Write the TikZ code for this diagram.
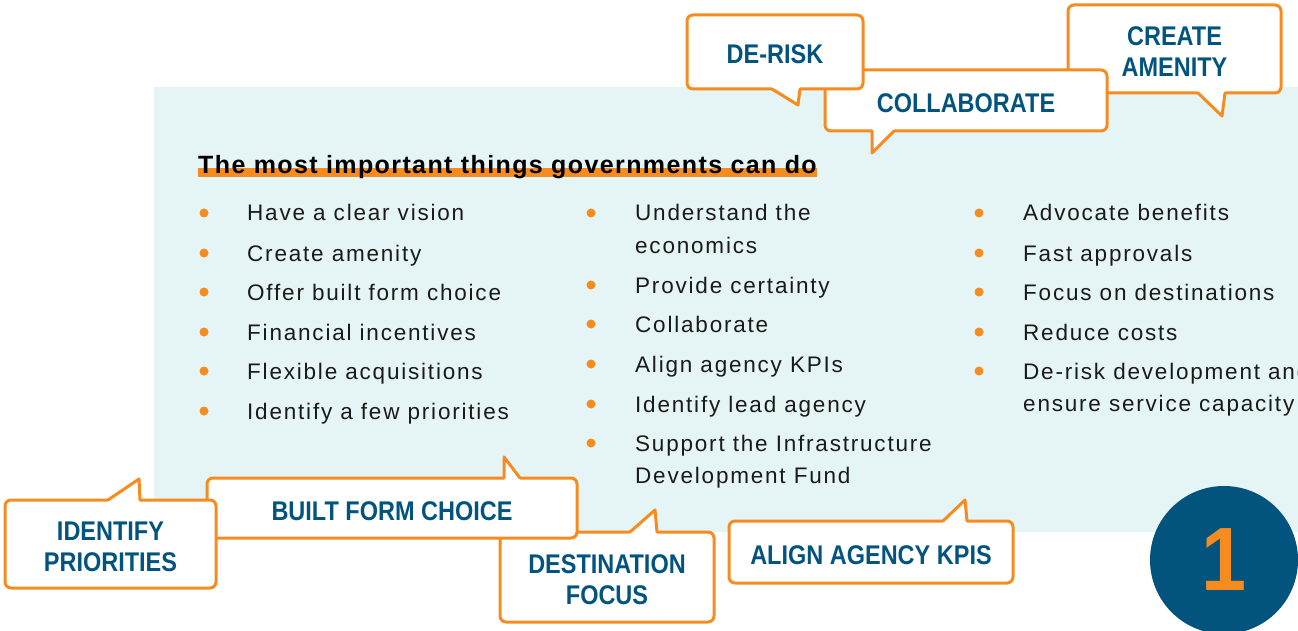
\documentclass[tikz,border=0pt]{standalone}
\usepackage{fontspec}
\setmainfont{Liberation Sans}
\newfontfamily\bodyfont{Liberation Sans}[LetterSpace=8]
\newfontfamily\titlefont{Liberation Sans Bold}[LetterSpace=5.6]
\newfontfamily\callfont{Liberation Sans Bold}[FakeStretch=0.87]
\newfontfamily\numfont{Liberation Sans Bold}[FakeStretch=0.9]
\usetikzlibrary{calc,backgrounds}
\definecolor{corange}{HTML}{F68B1F}
\definecolor{cblue}{HTML}{02547F}
\definecolor{cpanel}{HTML}{E5F4F5}
\definecolor{ctext}{HTML}{1A1A1A}
\tikzset{
  callout/.style={draw=corange, line width=3pt, fill=white, rounded corners=6pt,
    inner sep=0pt, outer sep=0pt, text=cblue, align=center,
    font=\callfont\fontsize{27}{31}\selectfont},
  oneline/.style={text height=24pt, text depth=0pt},
  twoline/.style={text height=55pt, text depth=0pt},
  tailline/.style={draw=corange, line width=3pt, line join=round, line cap=round},
  body/.style={anchor=base west, inner sep=0pt, text=ctext,
    font=\bodyfont\fontsize{22.5}{32}\selectfont},
  bul/.style={circle, fill=corange, inner sep=0pt, minimum size=9pt},
}
\begin{document}
\begin{tikzpicture}[x=1pt,y=-1pt]
\useasboundingbox (0,0) rectangle (1298,631);
\clip (0,0) rectangle (1298,631);
% panel
\begin{scope}[on background layer]
  \fill[cpanel] (154,87) rectangle (1298,532);
\end{scope}
% title
\node[anchor=base west, inner sep=0pt, text=black, font=\titlefont\fontsize{25}{30}\selectfont]
  (title) at (198,174) {The most important things governments can do};
\begin{scope}[on background layer]
  \fill[corange] ($(title.base west)+(0,-6)$) rectangle ($(title.base east)+(0,3)$);
\end{scope}
% column 1
\foreach \t/\y [count=\i] in {Have a clear vision/221, Create amenity/261,
  Offer built form choice/300, Financial incentives/340,
  Flexible acquisitions/379, Identify a few priorities/419}{
  \node[body] (a\i) at (247,\y) {\t};
  \node[bul] (ba\i) at (204,\y-8) {};
}
% column 2
\foreach \t/\y [count=\i] in {Understand the/221, Provide certainty/293,
  Collaborate/332, Align agency KPIs/372, Identify lead agency/412,
  Support the Infrastructure/451}{
  \node[body] (b\i) at (635,\y) {\t};
  \node[bul] (bb\i) at (591,\y-8) {};
}
\node[body] (b1x) at (635,253) {economics};
\node[body] (b6x) at (635,483) {Development Fund};
% column 3
\foreach \t/\y [count=\i] in {Advocate benefits/221, Fast approvals/261,
  Focus on destinations/300, Reduce costs/340, De-risk development and/379}{
  \node[body] (c\i) at (1023,\y) {\t};
  \node[bul] (bc\i) at (979,\y-8) {};
}
\node[body] (c5x) at (1023,411) {ensure service capacity};

% ---- top callouts (back to front) ----
% CREATE AMENITY
\node[callout, twoline, minimum width=213pt, minimum height=88pt] (ca) at (1174.5,49) {CREATE\\AMENITY};
\fill[white] ($(ca.south)+(23.5,-4)$) -- ($(ca.south)+(23.5,0)$) -- ($(ca.south)+(47.5,23)$) -- ($(ca.south)+(50.5,0)$) -- ($(ca.south)+(50.5,-4)$) -- cycle;
\draw[tailline] ($(ca.south)+(23.5,0)$) -- ($(ca.south)+(47.5,23)$) -- ($(ca.south)+(50.5,0)$);
% COLLABORATE
\node[callout, oneline, minimum width=282pt, minimum height=61pt] (co) at (966,100.5) {COLLABORATE};
\fill[white] ($(co.south)+(-94,-4)$) -- ($(co.south)+(-94,0)$) -- ($(co.south)+(-94,22)$) -- ($(co.south)+(-72,0)$) -- ($(co.south)+(-72,-4)$) -- cycle;
\draw[tailline] ($(co.south)+(-94,0)$) -- ($(co.south)+(-94,22)$) -- ($(co.south)+(-72,0)$);
% DE-RISK
\node[callout, oneline, minimum width=176pt, minimum height=74pt] (dr) at (775,52) {DE-RISK};
\fill[white] ($(dr.south)+(-3,-4)$) -- ($(dr.south)+(-3,0)$) -- ($(dr.south)+(23,16)$) -- ($(dr.south)+(25,0)$) -- ($(dr.south)+(25,-4)$) -- cycle;
\draw[tailline] ($(dr.south)+(-3,0)$) -- ($(dr.south)+(23,16)$) -- ($(dr.south)+(25,0)$);

% ---- bottom callouts (back to front) ----
% DESTINATION FOCUS
\node[callout, twoline, minimum width=214pt, minimum height=90pt] (df) at (607,577) {DESTINATION\\FOCUS};
\fill[white] ($(df.north)+(23,4)$) -- ($(df.north)+(23,0)$) -- ($(df.north)+(48,-22)$) -- ($(df.north)+(50,0)$) -- ($(df.north)+(50,4)$) -- cycle;
\draw[tailline] ($(df.north)+(23,0)$) -- ($(df.north)+(48,-22)$) -- ($(df.north)+(50,0)$);
% BUILT FORM CHOICE
\node[callout, oneline, minimum width=370pt, minimum height=60pt] (bf) at (392,508) {BUILT FORM CHOICE};
\fill[white] ($(bf.north)+(112,4)$) -- ($(bf.north)+(112,0)$) -- ($(bf.north)+(112,-21)$) -- ($(bf.north)+(128,0)$) -- ($(bf.north)+(128,4)$) -- cycle;
\draw[tailline] ($(bf.north)+(112,0)$) -- ($(bf.north)+(112,-21)$) -- ($(bf.north)+(128,0)$);
% IDENTIFY PRIORITIES
\node[callout, twoline, minimum width=211pt, minimum height=88pt] (ip) at (110.5,544) {IDENTIFY\\PRIORITIES};
\fill[white] ($(ip.north)+(-2.5,4)$) -- ($(ip.north)+(-2.5,0)$) -- ($(ip.north)+(28.5,-21)$) -- ($(ip.north)+(29.5,0)$) -- ($(ip.north)+(29.5,4)$) -- cycle;
\draw[tailline] ($(ip.north)+(-2.5,0)$) -- ($(ip.north)+(28.5,-21)$) -- ($(ip.north)+(29.5,0)$);
% ALIGN AGENCY KPIS
\node[callout, oneline, minimum width=284pt, minimum height=62pt] (ak) at (871,552) {ALIGN AGENCY KPIS};
\fill[white] ($(ak.north)+(72,4)$) -- ($(ak.north)+(72,0)$) -- ($(ak.north)+(94,-21)$) -- ($(ak.north)+(96,0)$) -- ($(ak.north)+(96,4)$) -- cycle;
\draw[tailline] ($(ak.north)+(72,0)$) -- ($(ak.north)+(94,-21)$) -- ($(ak.north)+(96,0)$);

% number circle
\node[circle, fill=cblue, minimum size=148pt, inner sep=0pt, text=corange,
  font=\numfont\fontsize{90}{90}\selectfont] (num) at (1224,560) {1};
\end{tikzpicture}
\end{document}
